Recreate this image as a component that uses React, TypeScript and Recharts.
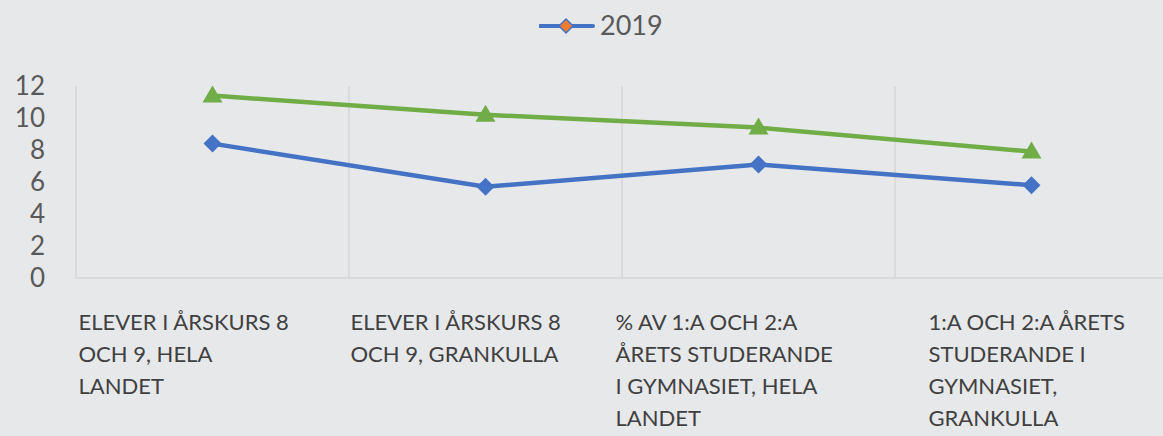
import React from 'react';
import { LineChart, Line, XAxis, YAxis, ReferenceLine } from 'recharts';

// Category labels, already wrapped the way the source chart shows them
const categories = [
  'ELEVER I ÅRSKURS 8\nOCH 9, HELA\nLANDET',
  'ELEVER I ÅRSKURS 8\nOCH 9, GRANKULLA',
  '% AV 1:A OCH 2:A\nÅRETS STUDERANDE\nI GYMNASIET, HELA\nLANDET',
  '1:A OCH 2:A ÅRETS\nSTUDERANDE I\nGYMNASIET,\nGRANKULLA',
];
const series2019 = [8.4, 5.7, 7.1, 5.8];
const seriesOther = [11.4, 10.2, 9.4, 7.9];
const yTicks = [0, 2, 4, 6, 8, 10, 12];

const data = categories.map((c, i) => ({ cat: c, y2019: series2019[i], other: seriesOther[i] }));

const BG = '#e7e8ea';
const TEXT = '#595959';
const CAT_TEXT = '#404040';
const GRID = '#d6d6d6';
const BLUE = '#4472c4';
const GREEN = '#70ad47';
const ORANGE = '#ed7d31';
const FONT = 'Lato, "Open Sans", sans-serif';

// how far each wrapped label block starts left of its tick
const LABEL_SHIFT = [-134, -135, -143, -103];

function CatTick({ x, y, payload, index }: any) {
  const lines = String(payload.value).split('\n');
  return (
    <text x={x + LABEL_SHIFT[index]} y={y + 52} fill={CAT_TEXT} fontSize={22} fontFamily={FONT} textAnchor="start">
      {lines.map((l, i) => (
        <tspan key={i} x={x + LABEL_SHIFT[index]} dy={i === 0 ? 0 : 32}>{l}</tspan>
      ))}
    </text>
  );
}

function Diamond({ cx, cy }: any) {
  if (cx == null || cy == null) return null;
  const r = 9;
  return <polygon points={`${cx},${cy - r} ${cx + r},${cy} ${cx},${cy + r} ${cx - r},${cy}`} fill={BLUE} />;
}

function Triangle({ cx, cy }: any) {
  if (cx == null || cy == null) return null;
  return <polygon points={`${cx},${cy - 10} ${cx + 10},${cy + 7} ${cx - 10},${cy + 7}`} fill={GREEN} />;
}

export default function App() {
  return (
    <div style={{ position: 'absolute', left: 0, top: 0, width: 1163, height: 436, overflow: 'hidden', background: BG }}>
      {/* Legend */}
      <div style={{ position: 'absolute', top: 8, left: 539, display: 'flex', alignItems: 'center', fontFamily: FONT, fontSize: 27, color: TEXT }}>
        <svg width={56} height={30}>
          <line x1={1} y1={16} x2={54} y2={16} stroke={BLUE} strokeWidth={4} strokeLinecap="round" />
          <polygon points="27,9 34,16 27,23 20,16" fill={ORANGE} stroke={BLUE} strokeWidth={1.5} />
        </svg>
        <span style={{ marginLeft: 5 }}>2019</span>
      </div>
      <LineChart width={1168} height={436} data={data} margin={{ top: 86, right: 0, bottom: 8, left: 0 }}>
        <XAxis
          dataKey="cat"
          scale="band"
          height={150}
          interval={0}
          tickLine={false}
          tickSize={0}
          tickMargin={0}
          axisLine={{ stroke: GRID, strokeWidth: 1.5 }}
          tick={<CatTick />}
        />
        <YAxis
          width={76}
          domain={[0, 12]}
          ticks={yTicks}
          interval={0}
          tickLine={false}
          tickSize={0}
          tickMargin={31}
          axisLine={{ stroke: GRID, strokeWidth: 1.5 }}
          tick={{ fill: TEXT, fontSize: 26, fontFamily: FONT }}
        />
        {/* vertical separators at the start of every category band but the first */}
        {categories.slice(1).map((c) => (
          <ReferenceLine key={c} x={c} position="start" stroke={GRID} strokeWidth={1.5} />
        ))}
        <Line dataKey="y2019" name="2019" stroke={BLUE} strokeWidth={4.5} dot={<Diamond />} isAnimationActive={false} />
        <Line dataKey="other" name="serie 2" stroke={GREEN} strokeWidth={4.5} dot={<Triangle />} isAnimationActive={false} />
      </LineChart>
    </div>
  );
}
